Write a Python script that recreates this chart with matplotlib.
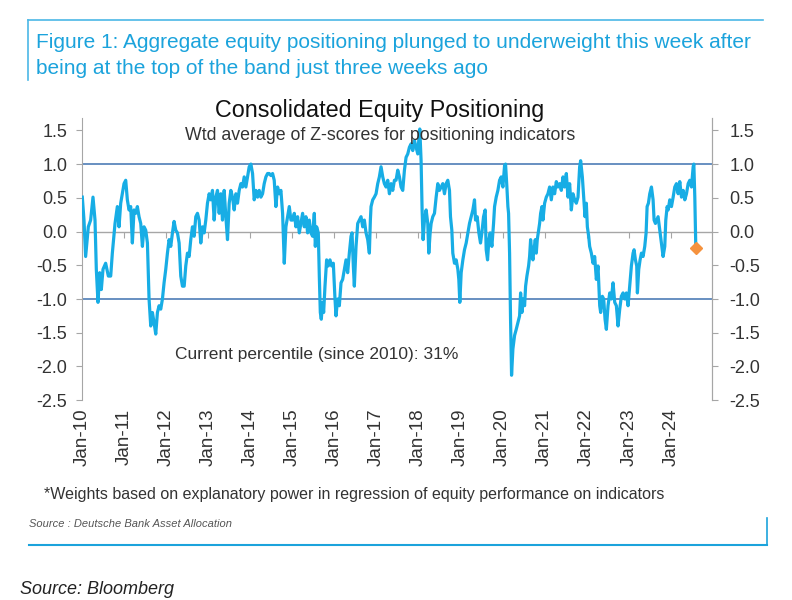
import matplotlib.pyplot as plt
from matplotlib.lines import Line2D

plt.rcParams['font.family'] = ['Liberation Sans', 'DejaVu Sans']

# weekly-ish readings of the consolidated positioning z-score (decimal years)
t = [2010.008, 2010.048, 2010.087, 2010.151, 2010.206, 2010.262, 2010.31, 2010.341, 2010.381, 2010.421,
     2010.46, 2010.5, 2010.563, 2010.627, 2010.683, 2010.722, 2010.786, 2010.841, 2010.881, 2010.921,
     2010.96, 2011.0, 2011.04, 2011.079, 2011.119, 2011.159, 2011.198, 2011.238, 2011.278, 2011.317,
     2011.357, 2011.397, 2011.437, 2011.476, 2011.516, 2011.556, 2011.595, 2011.635, 2011.675, 2011.714,
     2011.754, 2011.794, 2011.833, 2011.873, 2011.913, 2011.952, 2011.992, 2012.032, 2012.071, 2012.111,
     2012.151, 2012.19, 2012.23, 2012.27, 2012.31, 2012.349, 2012.389, 2012.43, 2012.468, 2012.508,
     2012.548, 2012.587, 2012.627, 2012.667, 2012.706, 2012.746, 2012.786, 2012.825, 2012.865, 2012.905,
     2012.944, 2012.984, 2013.024, 2013.063, 2013.103, 2013.143, 2013.183, 2013.222, 2013.262, 2013.302,
     2013.341, 2013.381, 2013.421, 2013.46, 2013.5, 2013.54, 2013.579, 2013.619, 2013.659, 2013.698,
     2013.738, 2013.778, 2013.817, 2013.857, 2013.897, 2013.937, 2013.976, 2014.016, 2014.056, 2014.095,
     2014.135, 2014.175, 2014.214, 2014.254, 2014.294, 2014.333, 2014.373, 2014.413, 2014.452, 2014.492,
     2014.532, 2014.571, 2014.611, 2014.651, 2014.69, 2014.73, 2014.77, 2014.81, 2014.849, 2014.889,
     2014.929, 2014.968, 2015.008, 2015.048, 2015.087, 2015.127, 2015.167, 2015.206, 2015.246, 2015.286,
     2015.325, 2015.365, 2015.405, 2015.444, 2015.484, 2015.524, 2015.548, 2015.579, 2015.619, 2015.643,
     2015.667, 2015.69, 2015.722, 2015.746, 2015.778, 2015.817, 2015.857, 2015.897, 2015.937, 2015.976,
     2016.016, 2016.04, 2016.079, 2016.119, 2016.159, 2016.198, 2016.238, 2016.278, 2016.317, 2016.357,
     2016.397, 2016.421, 2016.452, 2016.476, 2016.516, 2016.556, 2016.595, 2016.635, 2016.675, 2016.714,
     2016.754, 2016.794, 2016.833, 2016.857, 2016.873, 2016.913, 2016.952, 2016.992, 2017.032, 2017.071,
     2017.111, 2017.151, 2017.19, 2017.23, 2017.27, 2017.31, 2017.349, 2017.389, 2017.429, 2017.468,
     2017.508, 2017.548, 2017.587, 2017.627, 2017.667, 2017.706, 2017.746, 2017.786, 2017.825, 2017.865,
     2017.905, 2017.944, 2017.984, 2018.008, 2018.032, 2018.063, 2018.087, 2018.111, 2018.143, 2018.183,
     2018.222, 2018.246, 2018.278, 2018.302, 2018.341, 2018.381, 2018.421, 2018.46, 2018.5, 2018.54,
     2018.579, 2018.619, 2018.659, 2018.698, 2018.738, 2018.762, 2018.794, 2018.817, 2018.857, 2018.897,
     2018.937, 2018.96, 2018.984, 2019.016, 2019.056, 2019.095, 2019.135, 2019.175, 2019.214, 2019.254,
     2019.294, 2019.333, 2019.357, 2019.397, 2019.437, 2019.476, 2019.508, 2019.548, 2019.587, 2019.611,
     2019.643, 2019.675, 2019.706, 2019.746, 2019.786, 2019.81, 2019.849, 2019.889, 2019.929, 2019.968,
     2020.008, 2020.048, 2020.071, 2020.103, 2020.127, 2020.143, 2020.167, 2020.19, 2020.214, 2020.246,
     2020.286, 2020.325, 2020.365, 2020.405, 2020.429, 2020.46, 2020.484, 2020.524, 2020.548, 2020.579,
     2020.619, 2020.643, 2020.667, 2020.698, 2020.722, 2020.746, 2020.778, 2020.802, 2020.825, 2020.849,
     2020.881, 2020.905, 2020.937, 2020.96, 2021.0, 2021.04, 2021.079, 2021.119, 2021.159, 2021.198,
     2021.238, 2021.278, 2021.317, 2021.357, 2021.397, 2021.437, 2021.476, 2021.516, 2021.556, 2021.595,
     2021.635, 2021.675, 2021.714, 2021.754, 2021.794, 2021.833, 2021.857, 2021.897, 2021.929, 2021.96,
     2021.992, 2022.016, 2022.048, 2022.071, 2022.111, 2022.151, 2022.19, 2022.23, 2022.27, 2022.31,
     2022.333, 2022.373, 2022.405, 2022.437, 2022.468, 2022.508, 2022.548, 2022.587, 2022.627, 2022.667,
     2022.706, 2022.746, 2022.786, 2022.825, 2022.865, 2022.905, 2022.944, 2022.984, 2023.024, 2023.063,
     2023.103, 2023.127, 2023.159, 2023.19, 2023.206, 2023.238, 2023.27, 2023.302, 2023.341, 2023.381,
     2023.413, 2023.437, 2023.468, 2023.5, 2023.54, 2023.579, 2023.603, 2023.635, 2023.667, 2023.698,
     2023.738, 2023.778, 2023.817, 2023.857, 2023.881, 2023.913, 2023.937, 2023.976, 2024.016, 2024.056,
     2024.095, 2024.135, 2024.175, 2024.214, 2024.254, 2024.294, 2024.333, 2024.373, 2024.413, 2024.452,
     2024.492, 2024.532, 2024.548, 2024.571, 2024.595]
z = [0.51, 0.17, -0.37, 0.07, 0.17, 0.51, 0.17, -0.56, -1.05, -0.61,
     -0.86, -0.56, -0.47, -0.66, -0.66, -0.32, 0.12, 0.37, 0.07, 0.42,
     0.56, 0.71, 0.76, 0.47, 0.32, 0.37, -0.17, 0.32, 0.27, 0.37,
     0.22, 0.12, -0.22, 0.07, 0.02, -0.17, -1.0, -1.4, -1.2, -1.35,
     -1.52, -1.2, -1.1, -1.15, -1.0, -0.76, -0.56, -0.32, -0.12, -0.22,
     -0.02, 0.15, 0.02, -0.02, -0.17, -0.66, -0.81, -0.81, -0.51, -0.32,
     -0.37, -0.12, 0.07, -0.07, 0.22, 0.27, 0.17, -0.17, 0.07, -0.02,
     0.17, 0.42, 0.56, 0.47, 0.61, 0.17, 0.51, 0.61, 0.27, 0.56,
     0.17, 0.61, 0.22, -0.12, 0.42, 0.61, 0.51, 0.32, 0.56, 0.42,
     0.61, 0.71, 0.66, 0.81, 0.66, 0.81, 0.96, 1.0, 0.86, 0.47,
     0.61, 0.51, 0.61, 0.51, 0.56, 0.71, 0.81, 0.86, 0.86, 0.83,
     0.86, 0.76, 0.37, 0.66, 0.56, 0.61, 0.27, -0.47, 0.07, 0.22,
     0.37, 0.17, 0.17, 0.27, 0.07, 0.22, -0.02, 0.12, 0.27, 0.07,
     0.22, -0.02, 0.17, -0.02, -0.07, 0.27, -0.22, 0.07, -0.02, -0.66,
     -1.2, -1.3, -1.05, -1.2, -0.81, -0.42, -0.51, -0.42, -0.51, -0.47,
     -1.0, -1.25, -1.0, -1.1, -0.76, -0.71, -0.56, -0.42, -0.61, -0.32,
     -0.07, -0.02, -0.51, -0.81, -0.22, 0.12, 0.17, 0.22, 0.07, 0.17,
     -0.02, -0.12, -0.32, 0.17, 0.37, 0.47, 0.51, 0.56, 0.71, 0.81,
     0.96, 0.81, 0.71, 0.66, 0.76, 0.56, 0.71, 0.61, 0.76, 0.76,
     0.91, 0.81, 0.66, 0.61, 0.91, 1.1, 1.15, 1.25, 1.3, 1.2,
     1.35, 1.25, 1.15, 1.35, 1.52, 1.05, 0.32, -0.12, 0.17, 0.32,
     0.12, -0.32, -0.02, 0.12, 0.22, 0.27, 0.51, 0.71, 0.61, 0.66,
     0.71, 0.56, 0.71, 0.76, 0.61, 0.22, 0.02, -0.32, -0.47, -0.42,
     -0.56, -0.71, -1.05, -0.61, -0.42, -0.27, -0.17, -0.02, 0.12, 0.22,
     0.32, 0.47, 0.17, 0.22, -0.02, -0.17, -0.02, 0.22, 0.32, -0.27,
     -0.42, -0.12, -0.02, -0.22, 0.12, 0.37, 0.51, 0.61, 0.76, 0.81,
     0.66, 0.98, 1.0, 0.66, 0.37, 0.27, -0.32, -1.3, -2.13, -1.74,
     -1.54, -1.45, -1.35, -1.25, -0.91, -1.2, -1.0, -1.1, -0.81, -0.66,
     -0.51, -0.37, -0.12, -0.32, -0.42, -0.27, -0.12, -0.32, -0.12, -0.02,
     0.12, 0.27, 0.37, 0.17, 0.42, 0.51, 0.56, 0.66, 0.47, 0.66,
     0.56, 0.74, 0.66, 0.71, 0.61, 0.81, 0.66, 0.86, 0.51, 0.71,
     0.32, 0.56, 0.47, 0.42, 0.51, 0.96, 1.05, 0.81, 0.51, 0.22,
     0.42, 0.07, -0.07, -0.22, -0.32, -0.47, -0.37, -0.71, -0.51, -1.1,
     -1.2, -0.96, -1.0, -1.3, -1.45, -1.1, -0.91, -1.0, -0.76, -1.05,
     -1.1, -1.4, -1.15, -0.96, -0.91, -1.0, -0.91, -1.1, -0.81, -0.51,
     -0.32, -0.27, -0.42, -0.51, -0.91, -0.56, -0.42, -0.32, -0.37, -0.22,
     -0.02, 0.37, 0.42, 0.56, 0.66, 0.47, 0.17, 0.12, 0.17, 0.22,
     0.02, -0.17, -0.37, -0.22, 0.17, 0.37, 0.32, 0.47, 0.37, 0.51,
     0.66, 0.71, 0.56, 0.74, 0.51, 0.61, 0.47, 0.56, 0.71, 0.76,
     0.66, 0.96, 1.0, 0.51, -0.25]

tick_years = list(range(2010, 2025))
tick_labels = ['Jan-%02d' % (y % 100) for y in tick_years]
y_ticks = [1.5, 1.0, 0.5, 0.0, -0.5, -1.0, -1.5, -2.0, -2.5]
band = [1.0, -1.0]

blue = '#17ade5'
grey = '#a6a6a6'
text_col = '#333333'

fig = plt.figure(figsize=(7.92, 6.0), dpi=100)
ax = fig.add_axes([0.1035, 0.333, 0.7955, 0.47])

ax.plot(t, z, color=blue, lw=2.3, solid_joinstyle='round', zorder=3)
ax.plot(t[-1], z[-1], marker='D', color='#f5923e', ms=6, zorder=4)
for b in band:
    ax.axhline(b, color='#3f72b0', lw=1.1, zorder=2)
ax.axhline(0, color=grey, lw=1.0, zorder=1)

ax.set_xlim(2010.0, 2024.98)
ax.set_ylim(-2.5, 1.68)
ax.set_yticks(y_ticks)
ax.set_yticklabels(['%.1f' % v for v in y_ticks])
ax.tick_params(axis='y', direction='out', length=4, color=grey, labelsize=13,
               labelcolor=text_col, pad=6.5)

# tick marks sit on the zero line, labels go under the plot
ax.spines['bottom'].set_position(('data', 0))
ax.spines['bottom'].set_visible(False)
ax.set_xticks(tick_years)
ax.tick_params(axis='x', direction='out', length=4, color=grey, labelbottom=False)
sec = ax.secondary_xaxis('bottom')
sec.set_xticks(tick_years)
sec.set_xticklabels(tick_labels, rotation=90, fontsize=13.5, color=text_col)
sec.tick_params(length=0, pad=6)
sec.spines['bottom'].set_visible(False)

ax.spines['top'].set_visible(False)
ax.spines['left'].set_color(grey)
ax.spines['right'].set_color(grey)

ax2 = ax.twinx()
ax2.set_ylim(ax.get_ylim())
ax2.set_yticks(y_ticks)
ax2.set_yticklabels(['%.1f' % v for v in y_ticks])
ax2.tick_params(axis='y', direction='out', length=4, color=grey, labelsize=13,
                labelcolor=text_col, pad=8.5)
for s in ['top', 'left', 'bottom']:
    ax2.spines[s].set_visible(False)
ax2.spines['right'].set_color(grey)

ax.text(0.473, 1.028, 'Consolidated Equity Positioning', transform=ax.transAxes,
        ha='center', va='center', fontsize=16.8, color='#111111')
ax.text(0.473, 0.937, 'Wtd average of Z-scores for positioning indicators', transform=ax.transAxes,
        ha='center', va='center', fontsize=12.8, color=text_col)
ax.text(0.148, 0.162, 'Current percentile (since 2010): 31%', transform=ax.transAxes,
        ha='left', va='center', fontsize=12.5, color=text_col)

head_col = '#1ba3dc'
fig.text(36 / 792, 1 - 43 / 600, 'Figure 1: Aggregate equity positioning plunged to underweight this week after',
         ha='left', va='center', fontsize=15, color=head_col)
fig.text(36 / 792, 1 - 68 / 600, 'being at the top of the band just three weeks ago',
         ha='left', va='center', fontsize=15, color=head_col)
fig.text(44 / 792, 1 - 495 / 600,
         '*Weights based on explanatory power in regression of equity performance on indicators',
         ha='left', va='center', fontsize=11.5, color=text_col)
fig.text(29 / 792, 1 - 524 / 600, 'Source : Deutsche Bank Asset Allocation',
         ha='left', va='center', fontsize=8, style='italic', color='#555555')
fig.text(20 / 792, 1 - 590 / 600, 'Source: Bloomberg',
         ha='left', va='center', fontsize=13, style='italic', color='#222222')

frame_col = '#4cb8e6'
fig.add_artist(Line2D([28 / 792, 763 / 792], [1 - 20 / 600, 1 - 20 / 600], color=frame_col, lw=1.2))
fig.add_artist(Line2D([28 / 792, 28 / 792], [1 - 20 / 600, 1 - 80 / 600], color=frame_col, lw=1.2))
fig.add_artist(Line2D([29 / 792, 767 / 792], [1 - 545 / 600, 1 - 545 / 600], color=head_col, lw=1.5))
fig.add_artist(Line2D([767 / 792, 767 / 792], [1 - 518 / 600, 1 - 545 / 600], color=head_col, lw=1.2))

fig.savefig('out.png', dpi=100)
